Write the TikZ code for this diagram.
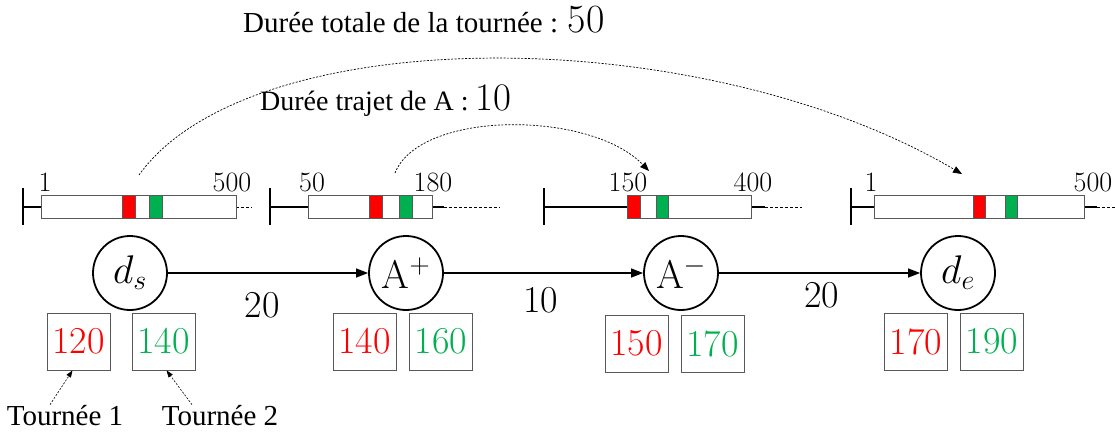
\RequirePackage{fix-cm}
\documentclass[tikz,border=0pt]{standalone}
\usepackage{fontspec}
\usetikzlibrary{arrows.meta, positioning}
\newfontfamily\tnrfont{Liberation Serif}
\definecolor{tourred}{RGB}{255,0,0}
\definecolor{tourgreen}{RGB}{0,176,80}
\definecolor{framegray}{RGB}{89,89,89}
\newcommand{\bignum}[2]{{\normalfont\fontsize{#1}{#1}\selectfont #2}}
\tikzset{
  stop/.style    = {draw, circle, line width=1.8pt, minimum size=74pt, inner sep=0pt,
                    font=\fontsize{40}{42}\selectfont},
  slot/.style    = {draw=framegray, line width=0.8pt, minimum width=63pt,
                    minimum height=57pt, inner sep=0pt, font=\fontsize{38}{40}\selectfont},
  weight/.style  = {inner sep=0pt, font=\fontsize{38}{40}\selectfont},
  twlabel/.style = {anchor=base, inner sep=0pt, font=\fontsize{28}{30}\selectfont},
  twbox/.style   = {draw=framegray, line width=0.8pt, fill=white},
  twtick/.style  = {line width=1.3pt},
  twline/.style  = {line width=1.1pt},
  twdash/.style  = {line width=0.8pt, dash pattern=on 3pt off 2pt},
  caption/.style = {anchor=base west, inner sep=0pt, font=\tnrfont\fontsize{29}{30}\selectfont},
  hop/.style     = {-{Triangle[length=12pt,width=9pt]}, line width=1.2pt},
  trip/.style    = {-{Triangle[length=9pt,width=7pt]}, line width=0.7pt,
                    dash pattern=on 2pt off 1.5pt},
  pointer/.style = {-{Triangle[length=7pt,width=5pt]}, line width=0.6pt,
                    dash pattern=on 2pt off 1.5pt},
}
\begin{document}
\begin{tikzpicture}[x=1pt, y=-1pt]
  \useasboundingbox (0,0) rectangle (1115,432);

  % time windows above the stops
  \foreach \t/\bl/\br/\rl/\rr/\gl/\gr/\se/\de/\xa/\la/\xb/\lb/\n in
    {23/41/236/122/135/149/162/236/252/45/1/232/500/1,
     270/308/432/369/382/399/412/444/500/312/50/433/180/2,
     544/627/751/627/640/656/668/765/802/628/150/753/400/3,
     851/874/1084/973/985/1005/1017/1097/1115/871/1/1093/500/4}
  {
    \draw[twtick] (\t,188) -- (\t,225);
    \draw[twline] (\t,207) -- (\bl,207);
    \draw[twline] (\br,207) -- (\se,207);
    \draw[twdash] (\se,207) -- (\de,207);
    \draw[twbox] (\bl,195) rectangle (\br,218);
    \draw[twbox, fill=tourred] (\rl,195) rectangle (\rr,218);
    \draw[twbox, fill=tourgreen] (\gl,195) rectangle (\gr,218);
    \node[twlabel] (tw\n-a) at (\xa,191) {\la};
    \node[twlabel] (tw\n-b) at (\xb,191) {\lb};
  }

  % stops
  \node[stop] (ds) at (130,273) {$d_s$};
  \node[stop] (ap) at (406,273) {$\mathrm{A}^{+}$};
  \node[stop] (am) at (681,273) {$\mathrm{A}^{-}$};
  \node[stop] (de) at (958,273) {$d_e$};

  \draw[hop] (ds) -- (ap) node[weight, midway, below=19pt, xshift=-6pt] {20};
  \draw[hop] (ap) -- (am) node[weight, midway, below=14pt, xshift=-3pt] {10};
  \draw[hop] (am) -- (de) node[weight, midway, below=9pt, xshift=2pt] {20};

  % arrival times of both tours
  \node[slot, text=tourred]   (ds-r) at (78.5,341.5)  {120};
  \node[slot, text=tourgreen] (ds-g) at (163.5,341.5) {140};
  \node[slot, text=tourred]   (ap-r) at (364.5,341.5) {140};
  \node[slot, text=tourgreen] (ap-g) at (441,341.5)   {160};
  \node[slot, text=tourred]   (am-r) at (636.5,343.5) {150};
  \node[slot, text=tourgreen] (am-g) at (712.5,343.5) {170};
  \node[slot, text=tourred]   (de-r) at (916,341.5)   {170};
  \node[slot, text=tourgreen] (de-g) at (992,341.5)   {190};

  \node[caption, anchor=base] (t1) at (65,425)  {Tournée 1};
  \node[caption, anchor=base] (t2) at (220,425) {Tournée 2};
  \draw[pointer] ([xshift=-15pt]t1.north) -- ([xshift=-6pt]ds-r.south);
  \draw[pointer] ([xshift=-28pt]t2.north) -- ([xshift=3pt]ds-g.south);

  % durations
  \node[caption] (total) at (243,32)
       {Durée totale de la tournée : \bignum{40}{50}};
  \node[caption, font=\tnrfont\fontsize{28}{30}\selectfont] (trajet) at (260,110)
       {Durée trajet de A : \bignum{39}{10}};

  \coordinate (tot-s) at (139,175);
  \coordinate (tot-e) at (962,174);
  \coordinate (a-s) at (395,173);
  \coordinate (a-e) at (649,171);
  \draw[trip] (tot-s) .. controls (250,20) and (700,20) .. (tot-e);
  \draw[trip] (a-s) .. controls (420,110) and (590,110) .. (a-e);
\end{tikzpicture}
\end{document}
